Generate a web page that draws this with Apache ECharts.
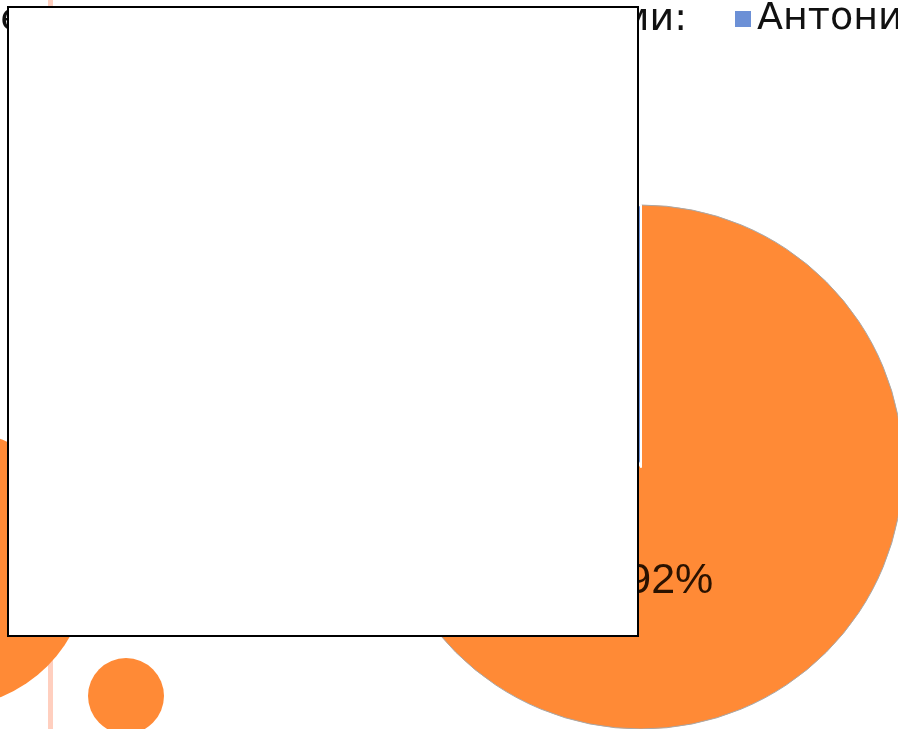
<!DOCTYPE html>
<html>
<head>
    <meta charset="utf-8">
    <title>Антонимы</title>
    <script type="text/javascript" src="https://cdn.jsdelivr.net/npm/echarts@6/dist/echarts.min.js"></script>
    <style>
        body { margin: 0; background: #fff; }
    </style>
</head>
<body>
<div id="main" style="width:898px;height:729px;"></div>

<script type="text/javascript">
    // данные диаграммы
    var sliceNames = ['Синонимы', 'Антонимы'];
    var sliceValues = [92, 8];
    var sliceColors = ['#ff8a36', '#6c90d6'];
    var legendNames = ['Антонимы', 'Синонимы'];
    var headText = 'Соотношение слов в тексте с антонимами:';

    var font = '"DejaVu Sans", sans-serif';
    var chart = echarts.init(document.getElementById('main'));

    var option = {
        backgroundColor: '#ffffff',
        animation: false,
        legend: {
            data: legendNames,
            orient: 'horizontal',
            left: 733,
            top: 0,
            width: 1200,
            padding: 0,
            icon: 'rect',
            itemWidth: 18,
            itemHeight: 18,
            itemGap: 30,
            textStyle: {
                fontFamily: font,
                fontSize: 38,
                color: '#111'
            }
        },
        graphic: [
            // декор слайда
            {
                type: 'rect', z: 0,
                shape: {x: 48, y: 0, width: 5, height: 729},
                style: {fill: '#ffcfbf'}
            },
            {
                type: 'circle', z: 1,
                shape: {cx: -51, cy: 568, r: 139},
                style: {fill: '#ff8a36'}
            },
            {
                type: 'circle', z: 1,
                shape: {cx: 126, cy: 696, r: 38},
                style: {fill: '#ff8a36'}
            },
            {
                type: 'text', z: 1,
                x: 687, y: 20,
                style: {
                    text: headText,
                    fontFamily: font,
                    fontSize: 38,
                    fill: '#111',
                    align: 'right',
                    verticalAlign: 'middle'
                }
            },
            // белая рамка поверх
            {
                type: 'rect', z: 100,
                shape: {x: 8, y: 7, width: 630, height: 629},
                style: {fill: '#ffffff', stroke: '#000000', lineWidth: 2}
            }
        ],
        series: [{
            type: 'pie',
            center: [641, 467],
            radius: 262,
            startAngle: 90,
            clockwise: true,
            z: 10,
            label: {
                show: true,
                position: 'inside',
                formatter: '{d}%',
                fontFamily: '"Liberation Sans", Arial, sans-serif',
                fontSize: 43,
                color: '#2a1200',
                offset: [-4, -16]
            },
            labelLine: {show: false},
            emphasis: {disabled: true},
            data: sliceNames.map(function (n, i) {
                var border = i === 0
                    ? {borderColor: '#a8a8a8', borderWidth: 1}
                    : {borderColor: '#ffffff', borderWidth: 2};
                return {
                    name: n,
                    value: sliceValues[i],
                    itemStyle: Object.assign({color: sliceColors[i]}, border)
                };
            })
        }]
    };
    chart.setOption(option);
</script>
</body>
</html>
